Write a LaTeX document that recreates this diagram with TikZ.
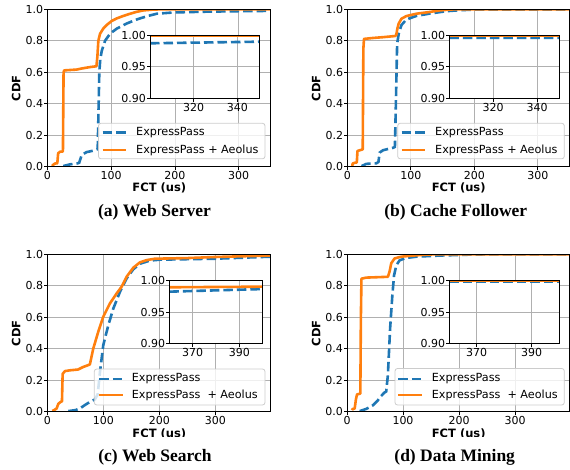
\documentclass[tikz,border=0pt]{standalone}
\usepackage{fontspec}
\setmainfont{Liberation Serif}
\newfontfamily\djv{DejaVu Sans}
\definecolor{tabblue}{HTML}{1F77B4}
\definecolor{taborange}{HTML}{FF7F0E}
\definecolor{gridgray}{HTML}{B0B0B0}
\begin{document}
\begin{tikzpicture}[x=1pt,y=-1pt,
  gridline/.style={draw=gridgray,line width=0.8pt},
  axframe/.style={draw=black,line width=0.9pt},
  tickmark/.style={draw=black,line width=0.8pt},
  bluecurve/.style={draw=tabblue,line width=2.6pt,dash pattern=on 9.5pt off 4pt},
  orangecurve/.style={draw=taborange,line width=2.6pt,line join=round},
  ticklabel/.style={font=\djv\fontsize{11}{11}\selectfont,inner sep=0pt},
  ylab/.style={ticklabel,anchor=east,xshift=-4pt},
  xlab/.style={ticklabel,anchor=north,yshift=-4.5pt},
  axlabel/.style={font=\djv\bfseries\fontsize{11.5}{11.5}\selectfont,inner sep=0pt},
  legtext/.style={font=\djv\fontsize{11.2}{11.2}\selectfont,inner sep=0pt,anchor=west},
  legbox/.style={draw=black!20,fill=white,fill opacity=0.8,rounded corners=2.5pt,line width=0.8pt},
  captext/.style={font=\bfseries\fontsize{17.5}{17.5}\selectfont,inner sep=0pt,anchor=base},
]
\useasboundingbox (0,0) rectangle (570,469);

%================ (a) Web Server =================
\begin{scope}[shift={(47.3,166.7)},x=0.638pt,y=157.4pt]
  \foreach \t in {100,200,300} \draw[gridline] (\t,0) -- (\t,1);
  \foreach \t in {0.2,0.4,0.6,0.8} \draw[gridline] (0,\t) -- (350,\t);
  \begin{scope}
    \clip (0,0) rectangle (350,1);
    \draw[bluecurve] plot coordinates {(25,0.004) (35.6,0.015) (46,0.02) (50,0.025) (54,0.075) (61.7,0.093) (74.8,0.104) (79,0.112) (80.5,0.4) (81.5,0.6) (83,0.68) (85.3,0.735) (90.5,0.8) (98.4,0.845) (108.8,0.877) (124.5,0.91) (140,0.935) (156,0.956) (171.6,0.972) (198,0.98) (250,0.985) (300,0.988) (350,0.99)};
    \draw[orangecurve] plot coordinates {(7.8,0.005) (8.5,0.01) (12,0.02) (15.7,0.022) (17,0.085) (19.9,0.095) (24.5,0.097) (25.5,0.6) (26.5,0.612) (46,0.617) (54,0.624) (67,0.633) (77,0.638) (78.5,0.7) (80,0.8) (82.7,0.845) (88,0.879) (93,0.9) (101,0.926) (108.8,0.942) (119.3,0.958) (130,0.972) (140,0.984) (150.7,0.993) (165,0.998) (180,1.0) (350,1.0)};
  \end{scope}
  \foreach \t [count=\i] in {0,100,200,300} {\draw[tickmark] (\t,0) -- ++(0pt,-3.5pt); \node[xlab] (a-x\i) at (\t,0) {\t};}
  \foreach \t [count=\i] in {0.0,0.2,0.4,0.6,0.8,1.0} {\draw[tickmark] (0,\t) -- ++(-3.5pt,0pt); \node[ylab] (a-y\i) at (0,\t) {\t};}
  \draw[axframe] (0,0) rectangle (350,1);
\end{scope}
\draw[legbox] (98.5,123.3) rectangle (265,158.8);
\coordinate (a-b1) at (102.7,132.3); \coordinate (a-b2) at (126,132.3);
\coordinate (a-o1) at (102.7,150); \coordinate (a-o2) at (126,150);
\draw[bluecurve] (a-b1) -- (a-b2);
\draw[orangecurve] (a-o1) -- (a-o2);
\node[legtext] (a-lt1) at (136,132.3) {ExpressPass};
\node[legtext] (a-lt2) at (136,150) {ExpressPass + Aeolus};
% inset (a)
\begin{scope}[shift={(-505.8,672.0)},x=2.186pt,y=637pt]
  \fill[white] (300,0.9) rectangle (350,1);
  \foreach \t in {320,340} \draw[gridline] (\t,0.9) -- (\t,1);
  \draw[gridline] (300,0.95) -- (350,0.95);
  \begin{scope}
    \clip (300,0.9) rectangle (350,1);
    \draw[bluecurve] (300,0.987) -- (350,0.9895);
    \draw[orangecurve] (300,0.999) -- (350,0.999);
  \end{scope}
  \foreach \t [count=\i] in {320,340} {\draw[tickmark] (\t,0.9) -- ++(0pt,-3.5pt); \node[xlab] (ai-x\i) at (\t,0.9) {\t};}
  \foreach \t/\s [count=\i] in {0.9/0.90,0.95/0.95,1/1.00} {\draw[tickmark] (300,\t) -- ++(-3.5pt,0pt); \node[ylab] (ai-y\i) at (300,\t) {\s};}
  \draw[axframe] (300,0.9) rectangle (350,1);
\end{scope}
\node[axlabel,rotate=90] (a-cdf) at (16.2,88.3) {CDF};
\begin{scope}
  \clip (0,0) rectangle (570,192.7);
  \node[axlabel,anchor=base] (a-fct) at (159.3,191.5) {FCT (us)};
\end{scope}
\node[captext] (a-cap) at (154.5,216) {(a) Web Server};

%================ (b) Cache Follower =================
\begin{scope}[shift={(347.3,166.7)},x=0.6349pt,y=157.4pt]
  \foreach \t in {100,200,300} \draw[gridline] (\t,0) -- (\t,1);
  \foreach \t in {0.2,0.4,0.6,0.8} \draw[gridline] (0,\t) -- (350,\t);
  \begin{scope}
    \clip (0,0) rectangle (350,1);
    \draw[bluecurve] plot coordinates {(22.5,0.004) (30,0.018) (46,0.022) (49,0.03) (51,0.09) (56.5,0.105) (72,0.12) (75,0.126) (76.5,0.4) (78.5,0.78) (81,0.845) (85.3,0.9) (93,0.935) (108.8,0.958) (130,0.973) (156,0.988) (180,0.995) (210,0.999) (350,0.999)};
    \draw[orangecurve] plot coordinates {(7.8,0.005) (8.5,0.02) (12,0.025) (15,0.027) (16,0.1) (22.5,0.108) (24.3,0.11) (25.3,0.75) (26.3,0.812) (40.8,0.818) (56.5,0.823) (74.8,0.83) (77,0.835) (79,0.88) (81,0.91) (85.3,0.94) (93,0.957) (108.8,0.972) (130,0.983) (145.5,0.993) (165,0.999) (180,1.0) (350,1.0)};
  \end{scope}
  \foreach \t [count=\i] in {0,100,200,300} {\draw[tickmark] (\t,0) -- ++(0pt,-3.5pt); \node[xlab] (b-x\i) at (\t,0) {\t};}
  \foreach \t [count=\i] in {0.0,0.2,0.4,0.6,0.8,1.0} {\draw[tickmark] (0,\t) -- ++(-3.5pt,0pt); \node[ylab] (b-y\i) at (0,\t) {\t};}
  \draw[axframe] (0,0) rectangle (350,1);
\end{scope}
\draw[legbox] (397.7,123.3) rectangle (564.3,158.8);
\coordinate (b-b1) at (401.7,132.3); \coordinate (b-b2) at (425,132.3);
\coordinate (b-o1) at (401.7,150); \coordinate (b-o2) at (425,150);
\draw[bluecurve] (b-b1) -- (b-b2);
\draw[orangecurve] (b-o1) -- (b-o2);
\node[legtext] (b-lt1) at (435,132.3) {ExpressPass};
\node[legtext] (b-lt2) at (435,150) {ExpressPass + Aeolus};
% inset (b)
\begin{scope}[shift={(-208.9,672.0)},x=2.194pt,y=637pt]
  \fill[white] (300,0.9) rectangle (350,1);
  \foreach \t in {320,340} \draw[gridline] (\t,0.9) -- (\t,1);
  \draw[gridline] (300,0.95) -- (350,0.95);
  \begin{scope}
    \clip (300,0.9) rectangle (350,1);
    \draw[bluecurve] (300,0.9955) -- (350,0.9957);
    \draw[orangecurve] (300,0.9992) -- (350,0.9992);
  \end{scope}
  \foreach \t [count=\i] in {320,340} {\draw[tickmark] (\t,0.9) -- ++(0pt,-3.5pt); \node[xlab] (bi-x\i) at (\t,0.9) {\t};}
  \foreach \t/\s [count=\i] in {0.9/0.90,0.95/0.95,1/1.00} {\draw[tickmark] (300,\t) -- ++(-3.5pt,0pt); \node[ylab] (bi-y\i) at (300,\t) {\s};}
  \draw[axframe] (300,0.9) rectangle (350,1);
\end{scope}
\node[axlabel,rotate=90] (b-cdf) at (316.3,88.3) {CDF};
\begin{scope}
  \clip (0,0) rectangle (570,192.7);
  \node[axlabel,anchor=base] (b-fct) at (458.7,191.5) {FCT (us)};
\end{scope}
\node[captext] (b-cap) at (455.8,216) {(b) Cache Follower};

%================ (c) Web Search =================
\begin{scope}[shift={(47.3,411.7)},x=0.56pt,y=157.4pt]
  \foreach \t in {100,200,300} \draw[gridline] (\t,0) -- (\t,1);
  \foreach \t in {0.2,0.4,0.6,0.8} \draw[gridline] (0,\t) -- (399,\t);
  \begin{scope}
    \clip (0,0) rectangle (399,1);
    \draw[bluecurve] plot coordinates {(37.5,0.004) (50,0.01) (58,0.02) (67,0.042) (76,0.062) (85,0.078) (90,0.11) (94,0.25) (100,0.424) (109,0.55) (118,0.657) (130,0.763) (141.7,0.847) (153.6,0.905) (165.5,0.94) (183,0.96) (201,0.966) (300,0.972) (399,0.985)};
    \draw[orangecurve] plot coordinates {(8.9,0.005) (12,0.01) (16.7,0.02) (19.6,0.05) (23.8,0.062) (26.2,0.066) (27.4,0.24) (31.5,0.258) (40.5,0.263) (55,0.268) (64,0.284) (76,0.3) (82,0.4) (91,0.508) (100,0.604) (112,0.689) (124,0.752) (132.7,0.794) (141.7,0.858) (153.6,0.915) (165.5,0.949) (177.4,0.963) (192,0.972) (250,0.976) (300,0.983) (399,0.992)};
  \end{scope}
  \foreach \t [count=\i] in {0,100,200,300} {\draw[tickmark] (\t,0) -- ++(0pt,-3.5pt); \node[xlab] (c-x\i) at (\t,0) {\t};}
  \foreach \t [count=\i] in {0.0,0.2,0.4,0.6,0.8,1.0} {\draw[tickmark] (0,\t) -- ++(-3.5pt,0pt); \node[ylab] (c-y\i) at (0,\t) {\t};}
  \draw[axframe] (0,0) rectangle (399,1);
\end{scope}
\draw[legbox] (94.3,369) rectangle (265,405);
\coordinate (c-b1) at (99.3,379); \coordinate (c-b2) at (123.3,379);
\coordinate (c-o1) at (99.3,395); \coordinate (c-o2) at (123.3,395);
\draw[bluecurve] (c-b1) -- (c-b2);
\draw[orangecurve] (c-o1) -- (c-o2);
\node[legtext] (c-lt1) at (131.7,379) {ExpressPass};
\node[legtext] (c-lt2) at (131.7,395) {ExpressPass\ \ + Aeolus};
% inset (c)
\begin{scope}[shift={(-671.3,906.7)},x=2.335pt,y=626pt]
  \fill[white] (360,0.9) rectangle (400,1);
  \foreach \t in {370,390} \draw[gridline] (\t,0.9) -- (\t,1);
  \draw[gridline] (360,0.95) -- (400,0.95);
  \begin{scope}
    \clip (360,0.9) rectangle (400,1);
    \draw[bluecurve] (360,0.9825) -- (400,0.9867);
    \draw[orangecurve] (360,0.9895) -- (400,0.9905);
  \end{scope}
  \foreach \t [count=\i] in {370,390} {\draw[tickmark] (\t,0.9) -- ++(0pt,-3.5pt); \node[xlab] (ci-x\i) at (\t,0.9) {\t};}
  \foreach \t/\s [count=\i] in {0.9/0.90,0.95/0.95,1/1.00} {\draw[tickmark] (360,\t) -- ++(-3.5pt,0pt); \node[ylab] (ci-y\i) at (360,\t) {\s};}
  \draw[axframe] (360,0.9) rectangle (400,1);
\end{scope}
\node[axlabel,rotate=90] (c-cdf) at (16.2,333.3) {CDF};
\begin{scope}
  \clip (0,0) rectangle (570,436.7);
  \node[axlabel,anchor=base] (c-fct) at (159.3,437.5) {FCT (us)};
\end{scope}
\node[captext] (c-cap) at (155,461) {(c) Web Search};

%================ (d) Data Mining =================
\begin{scope}[shift={(347,411.7)},x=0.56pt,y=157.4pt]
  \foreach \t in {100,200,300} \draw[gridline] (\t,0) -- (\t,1);
  \foreach \t in {0.2,0.4,0.6,0.8} \draw[gridline] (0,\t) -- (397.3,\t);
  \begin{scope}
    \clip (0,0) rectangle (397.3,1);
    \draw[bluecurve] plot coordinates {(22.6,0.004) (34.5,0.018) (46,0.04) (55,0.072) (61,0.1) (67,0.122) (70,0.128) (73,0.233) (77,0.53) (81,0.74) (84,0.865) (88,0.93) (94,0.962) (106,0.977) (124,0.985) (165,0.992) (220,0.998) (260,1.0) (397.3,1.0)};
    \draw[orangecurve] plot coordinates {(8.9,0.01) (10,0.017) (13.7,0.02) (16,0.08) (18,0.11) (23.8,0.115) (24.8,0.6) (25.8,0.845) (34.5,0.852) (73,0.857) (76,0.89) (79,0.943) (85,0.974) (97,0.985) (118,0.992) (142,0.998) (160,1.0) (397.3,1.0)};
  \end{scope}
  \foreach \t [count=\i] in {0,100,200,300} {\draw[tickmark] (\t,0) -- ++(0pt,-3.5pt); \node[xlab] (d-x\i) at (\t,0) {\t};}
  \foreach \t [count=\i] in {0.0,0.2,0.4,0.6,0.8,1.0} {\draw[tickmark] (0,\t) -- ++(-3.5pt,0pt); \node[ylab] (d-y\i) at (0,\t) {\t};}
  \draw[axframe] (0,0) rectangle (397.3,1);
\end{scope}
\draw[legbox] (395,368.5) rectangle (564.3,405);
\coordinate (d-b1) at (398.3,379); \coordinate (d-b2) at (421.7,379);
\coordinate (d-o1) at (398.3,395); \coordinate (d-o2) at (421.7,395);
\draw[bluecurve] (d-b1) -- (d-b2);
\draw[orangecurve] (d-o1) -- (d-o2);
\node[legtext] (d-lt1) at (431.7,379) {ExpressPass};
\node[legtext] (d-lt2) at (431.7,395) {ExpressPass\ \ + Aeolus};
% inset (d)
\begin{scope}[shift={(-538.0,906.7)},x=2.7425pt,y=626pt]
  \fill[white] (360,0.9) rectangle (400,1);
  \foreach \t in {370,390} \draw[gridline] (\t,0.9) -- (\t,1);
  \draw[gridline] (360,0.95) -- (400,0.95);
  \begin{scope}
    \clip (360,0.9) rectangle (400,1);
    \draw[bluecurve] (360,0.9992) -- (400,0.9992);
    \draw[orangecurve] (360,0.9994) -- (400,0.9994);
  \end{scope}
  \foreach \t [count=\i] in {370,390} {\draw[tickmark] (\t,0.9) -- ++(0pt,-3.5pt); \node[xlab] (di-x\i) at (\t,0.9) {\t};}
  \foreach \t/\s [count=\i] in {0.9/0.90,0.95/0.95,1/1.00} {\draw[tickmark] (360,\t) -- ++(-3.5pt,0pt); \node[ylab] (di-y\i) at (360,\t) {\s};}
  \draw[axframe] (360,0.9) rectangle (400,1);
\end{scope}
\node[axlabel,rotate=90] (d-cdf) at (316.3,333.3) {CDF};
\begin{scope}
  \clip (0,0) rectangle (570,436.7);
  \node[axlabel,anchor=base] (d-fct) at (458.7,437.5) {FCT (us)};
\end{scope}
\node[captext] (d-cap) at (454.7,461) {(d) Data Mining};
\end{tikzpicture}
\end{document}
